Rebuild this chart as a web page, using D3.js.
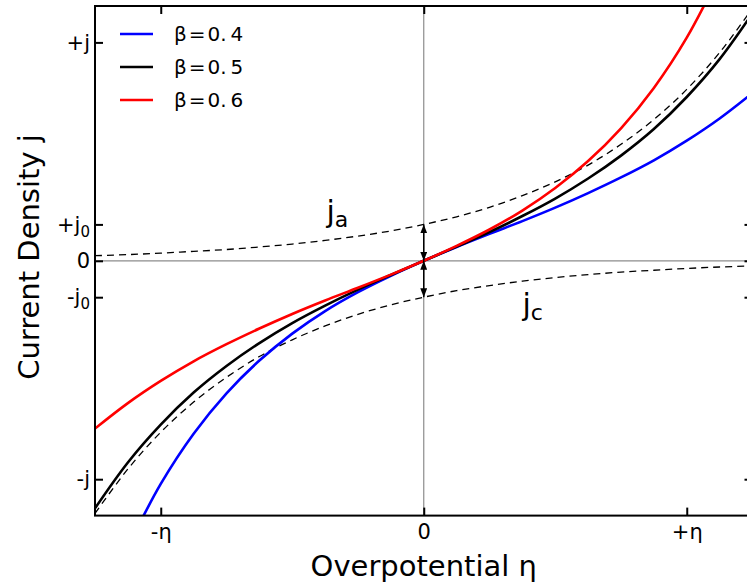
<!DOCTYPE html>
<html>
<head>
<meta charset="utf-8">
<script src="https://cdn.jsdelivr.net/npm/d3@7"></script>
<style>
body { margin: 0; background: #fff; }
svg text { font-family: "DejaVu Sans", sans-serif; fill: #000; }
</style>
</head>
<body>
<script>
const width = 747;
const height = 588;
const margin = {top: 6, left: 95};
const plotW = 657.5;
const plotH = 509.6;

// overpotential (units of eta) and current density (units of j0)
const eta = [-1.25, -1.125, -1, -0.875, -0.75, -0.625, -0.5, -0.375, -0.25, -0.125, 0,
             0.125, 0.25, 0.375, 0.5, 0.625, 0.75, 0.875, 1, 1.125, 1.25];
const jBeta04 = [null, -7.86, -6.13, -4.75, -3.64, -2.74, -2.00, -1.38, -0.86, -0.41, 0,
                 0.38, 0.74, 1.09, 1.46, 1.86, 2.29, 2.76, 3.30, 3.91, 4.61];
const jBeta05 = [-6.80, -5.54, -4.50, -3.62, -2.89, -2.26, -1.71, -1.23, -0.79, -0.39, 0,
                 0.39, 0.79, 1.23, 1.71, 2.26, 2.89, 3.62, 4.50, 5.54, 6.80];
const jBeta06 = [-4.61, -3.91, -3.30, -2.76, -2.29, -1.86, -1.46, -1.09, -0.74, -0.38, 0,
                 0.41, 0.86, 1.38, 2.00, 2.74, 3.64, 4.75, 6.13, 7.86, null];
const jAnodic = [0.14, 0.17, 0.21, 0.26, 0.31, 0.38, 0.46, 0.56, 0.68, 0.82, 1,
                 1.21, 1.47, 1.79, 2.17, 2.63, 3.20, 3.88, 4.71, 5.72, 6.94];
const jCathodic = [-6.94, -5.72, -4.71, -3.88, -3.20, -2.63, -2.17, -1.79, -1.47, -1.21, -1,
                   -0.82, -0.68, -0.56, -0.46, -0.38, -0.31, -0.26, -0.21, -0.17, -0.14];

const seriesNames = ["β\u200a=\u200a0.\u20094", "β\u200a=\u200a0.\u20095", "β\u200a=\u200a0.\u20096"];
const seriesColors = ["#0000ff", "#000000", "#ff0000"];

const xTickVals = [-1, 0, 1];
const xTickLabels = ["-η", "0", "+η"];
const yTickVals = [-6, -1, 0, 1, 6];
const yTickMain = ["-j", "-j", "0", "+j", "+j"];
const yTickSub = ["", "0", "", "0", ""];

const svg = d3.select("body").append("svg")
    .attr("width", width)
    .attr("height", height);

const x = d3.scaleLinear().domain([-1.25, 1.25]).range([0, plotW]);
const y = d3.scaleLinear().domain([-7, 7]).range([plotH, 0]);

const g = svg.append("g").attr("transform", `translate(${margin.left},${margin.top})`);

g.append("clipPath").attr("id", "clip")
  .append("rect").attr("width", plotW).attr("height", plotH);

const plot = g.append("g").attr("clip-path", "url(#clip)");

// zero lines
plot.append("line")
    .attr("x1", 0).attr("x2", plotW)
    .attr("y1", y(0)).attr("y2", y(0))
    .attr("stroke", "#8c8c8c").attr("stroke-width", 1.2);
plot.append("line")
    .attr("x1", x(0)).attr("x2", x(0))
    .attr("y1", 0).attr("y2", plotH)
    .attr("stroke", "#8c8c8c").attr("stroke-width", 1.2);

const line = vals => d3.line()
    .defined((d, i) => vals[i] !== null)
    .x((d, i) => x(eta[i]))
    .y((d, i) => y(vals[i]))
    .curve(d3.curveCatmullRom.alpha(0.5))(eta);

// partial currents
[jAnodic, jCathodic].forEach(vals => {
  plot.append("path")
      .attr("d", line(vals))
      .attr("fill", "none")
      .attr("stroke", "#000")
      .attr("stroke-width", 1.3)
      .attr("stroke-dasharray", "7,5");
});

[jBeta04, jBeta05, jBeta06].forEach((vals, i) => {
  plot.append("path")
      .attr("d", line(vals))
      .attr("fill", "none")
      .attr("stroke", seriesColors[i])
      .attr("stroke-width", 2.6);
});

// j0 arrows
svg.append("defs").append("marker")
    .attr("id", "head")
    .attr("viewBox", "0 0 10 10")
    .attr("refX", 10).attr("refY", 5)
    .attr("markerUnits", "userSpaceOnUse")
    .attr("markerWidth", 9).attr("markerHeight", 7)
    .attr("preserveAspectRatio", "none")
    .attr("orient", "auto-start-reverse")
  .append("path").attr("d", "M0,0L10,5L0,10z").attr("fill", "#000");

[1, -1].forEach(v => {
  g.append("line")
      .attr("x1", x(0)).attr("x2", x(0))
      .attr("y1", y(0)).attr("y2", y(v))
      .attr("stroke", "#000").attr("stroke-width", 1.5)
      .attr("marker-start", "url(#head)")
      .attr("marker-end", "url(#head)");
});

// ja / jc labels
const sub = (px, py, main, s) => {
  const t = g.append("text").attr("x", px).attr("y", py).attr("font-size", 30).text(main);
  t.append("tspan").attr("font-size", 22).attr("dy", 5).text(s);
};
sub(x(-0.37), y(1.06), "j", "a");
sub(x(0.375), y(-1.5), "j", "c");

// axes
const styleAxis = sel => {
  sel.select(".domain").remove();
  sel.selectAll(".tick line").attr("stroke", "#000").attr("stroke-width", 2);
};

g.append("g")
    .attr("transform", `translate(0,${plotH})`)
    .call(d3.axisBottom(x).tickValues(xTickVals).tickSizeInner(-8).tickSizeOuter(0)
      .tickPadding(8).tickFormat((d, i) => xTickLabels[i]))
    .call(styleAxis)
    .selectAll("text").attr("font-size", 21).attr("fill", "#000");

g.append("g")
    .call(d3.axisTop(x).tickValues(xTickVals).tickSizeInner(-8).tickSizeOuter(0).tickFormat(""))
    .call(styleAxis);

const yAxis = g.append("g")
    .call(d3.axisLeft(y).tickValues(yTickVals).tickSizeInner(-8).tickSizeOuter(0)
      .tickPadding(5).tickFormat((d, i) => yTickMain[i]))
    .call(styleAxis);
yAxis.selectAll(".tick text")
    .attr("font-size", 21).attr("fill", "#000")
    .each(function(d, i) {
      if (yTickSub[i]) {
        d3.select(this).append("tspan").attr("font-size", 15).attr("dy", 5).text(yTickSub[i]);
      }
    });

g.append("g")
    .attr("transform", `translate(${plotW},0)`)
    .call(d3.axisRight(y).tickValues(yTickVals).tickSizeInner(-8).tickSizeOuter(0).tickFormat(""))
    .call(styleAxis);

// frame
g.append("rect")
    .attr("width", plotW).attr("height", plotH)
    .attr("fill", "none").attr("stroke", "#000").attr("stroke-width", 2);

// axis titles
svg.append("text")
    .attr("x", margin.left + x(0)).attr("y", 576)
    .attr("text-anchor", "middle").attr("font-size", 29)
    .text("Overpotential η");
svg.append("text")
    .attr("transform", `translate(39,257) rotate(-90)`)
    .attr("text-anchor", "middle").attr("font-size", 29)
    .text("Current Density j");

// legend
const legend = g.append("g").attr("transform", "translate(25,28)");
seriesNames.forEach((name, i) => {
  const row = legend.append("g").attr("transform", `translate(0,${i * 33})`);
  row.append("line").attr("x1", 0).attr("x2", 33)
     .attr("stroke", seriesColors[i]).attr("stroke-width", 2.6);
  row.append("text").attr("x", 54).attr("y", 7).attr("font-size", 20).text(name);
});
</script>
</body>
</html>
